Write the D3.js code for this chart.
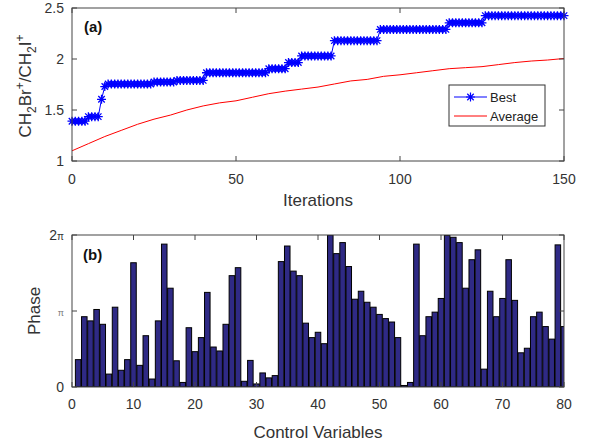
<!DOCTYPE html>
<html>
<head>
<meta charset="utf-8">
<script src="https://cdn.jsdelivr.net/npm/d3@7"></script>
<style>
  body { margin: 0; background: #fff; }
  svg { font-family: "Liberation Sans", Arial, sans-serif; }
  .tick-label { fill: #333; font-size: 14px; }
  .axis-title { fill: #333; font-size: 17px; }
</style>
</head>
<body>
<svg id="chart" width="599" height="444"></svg>
<script>
// ---- data ----
const bestIter = d3.range(0, 151);
const bestValues = [
  1.39, 1.39, 1.39, 1.39, 1.39,
  1.435, 1.435, 1.435, 1.435,
  1.605,
  1.73,
  1.755, 1.755, 1.755, 1.755, 1.755, 1.755, 1.755, 1.755, 1.755, 1.755, 1.755, 1.755, 1.755, 1.755,
  1.775, 1.775, 1.775, 1.775, 1.775, 1.775, 1.775,
  1.79, 1.79, 1.79, 1.79, 1.79, 1.79, 1.79, 1.79, 1.79,
  1.865, 1.865, 1.865, 1.865, 1.865, 1.865, 1.865, 1.865, 1.865, 1.865,
  1.865, 1.865, 1.865, 1.865, 1.865, 1.865, 1.865, 1.865, 1.865,
  1.905, 1.905, 1.905, 1.905, 1.905, 1.905,
  1.965, 1.965, 1.965, 1.965,
  2.03, 2.03, 2.03, 2.03, 2.03, 2.03, 2.03, 2.03, 2.03, 2.03,
  2.18, 2.18, 2.18, 2.18, 2.18, 2.18, 2.18, 2.18, 2.18, 2.18, 2.18, 2.18, 2.18, 2.18,
  2.29, 2.29, 2.29, 2.29, 2.29, 2.29, 2.29, 2.29, 2.29, 2.29, 2.29,
  2.29, 2.29, 2.29, 2.29, 2.29, 2.29, 2.29, 2.29, 2.29, 2.29,
  2.355, 2.355, 2.355, 2.355, 2.355, 2.355, 2.355, 2.355, 2.355, 2.355, 2.355,
  2.425, 2.425, 2.425, 2.425, 2.425, 2.425, 2.425, 2.425, 2.425, 2.425, 2.425, 2.425, 2.425,
  2.425, 2.425, 2.425, 2.425, 2.425, 2.425, 2.425, 2.425, 2.425, 2.425, 2.425, 2.425
];
const avgIter = [0, 5, 10, 15, 20, 25, 30, 35, 40, 45, 50, 55, 60, 65, 70, 75,
  80, 85, 90, 95, 100, 105, 110, 115, 120, 125, 130, 135, 140, 145, 150];
const avgValues = [1.10, 1.17, 1.24, 1.30, 1.36, 1.41, 1.45, 1.50, 1.54, 1.57, 1.59,
  1.625, 1.66, 1.685, 1.705, 1.725, 1.755, 1.785, 1.80, 1.83, 1.845, 1.865, 1.885,
  1.905, 1.915, 1.925, 1.945, 1.965, 1.98, 1.99, 2.005];

// phase of each control variable, in units of pi
const controlVars = d3.range(1, 81);
const phaseValues = [
  0.36, 0.925, 0.87, 1.02, 0.825, 0.17, 1.05, 0.22, 0.36, 1.635,
  0.285, 0.675, 0.105, 0.87, 1.88, 1.30, 0.345, 0.06, 0.78, 0.465,
  0.65, 1.245, 0.526, 0.474, 0.825, 1.465, 1.57, 0.075, 0.35, 0.04,
  0.185, 0.12, 0.15, 1.65, 1.855, 1.525, 1.465, 0.84, 0.65, 0.72,
  0.57, 2.0, 1.755, 1.90, 1.585, 1.155, 1.26, 1.115, 1.05, 0.955,
  0.90, 0.855, 0.65, 0.02, 0.06, 1.88, 0.675, 0.925, 0.985, 1.165,
  1.995, 1.97, 1.90, 1.30, 1.675, 1.805, 0.235, 1.26, 0.925, 1.165,
  1.675, 1.14, 0.45, 0.51, 0.925, 0.985, 0.795, 0.63, 1.87, 0.795
];

const topXTicks = [0, 50, 100, 150];
const topYTicks = [1, 1.5, 2, 2.5];
const botXTicks = [0, 10, 20, 30, 40, 50, 60, 70, 80];
const botYTicks = [0, 1, 2];

// ---- layout ----
const svg = d3.select("#chart");
const left = 72, right = 564;
const topPanel = { top: 8, bottom: 161 };
const botPanel = { top: 235, bottom: 387 };
const axisColor = "#444";
const tickLen = 5;

// ============ (a) convergence ============
const x1 = d3.scaleLinear().domain([0, 150]).range([left, right]);
const y1 = d3.scaleLinear().domain([1, 2.5]).range([topPanel.bottom, topPanel.top]);

const gTop = svg.append("g");

// average line
gTop.append("path")
  .datum(avgIter.map((d, i) => [d, avgValues[i]]))
  .attr("fill", "none")
  .attr("stroke", "#ff0000")
  .attr("stroke-width", 1)
  .attr("d", d3.line().x(d => x1(d[0])).y(d => y1(d[1])));

// best line with asterisk markers
gTop.append("path")
  .datum(bestIter.map((d, i) => [d, bestValues[i]]))
  .attr("fill", "none")
  .attr("stroke", "#0000ff")
  .attr("stroke-width", 1)
  .attr("d", d3.line().x(d => x1(d[0])).y(d => y1(d[1])));

function star(r) {
  const k = r * 0.72;
  return `M${-r},0H${r}M0,${-r}V${r}M${-k},${-k}L${k},${k}M${-k},${k}L${k},${-k}`;
}

gTop.selectAll(".best-marker")
  .data(bestIter.map((d, i) => [d, bestValues[i]]))
  .join("path")
  .attr("class", "best-marker")
  .attr("transform", d => `translate(${x1(d[0])},${y1(d[1])})`)
  .attr("d", star(4.5))
  .attr("fill", "none")
  .attr("stroke", "#0000ff")
  .attr("stroke-width", 1.3);

// box and ticks
gTop.append("rect")
  .attr("x", left).attr("y", topPanel.top)
  .attr("width", right - left).attr("height", topPanel.bottom - topPanel.top)
  .attr("fill", "none").attr("stroke", axisColor);

topXTicks.forEach(t => {
  gTop.append("line").attr("x1", x1(t)).attr("x2", x1(t))
    .attr("y1", topPanel.bottom).attr("y2", topPanel.bottom - tickLen).attr("stroke", axisColor);
  gTop.append("line").attr("x1", x1(t)).attr("x2", x1(t))
    .attr("y1", topPanel.top).attr("y2", topPanel.top + tickLen).attr("stroke", axisColor);
  gTop.append("text").attr("class", "tick-label")
    .attr("x", x1(t)).attr("y", 184).attr("text-anchor", "middle").text(t);
});
topYTicks.forEach(t => {
  gTop.append("line").attr("x1", left).attr("x2", left + tickLen)
    .attr("y1", y1(t)).attr("y2", y1(t)).attr("stroke", axisColor);
  gTop.append("line").attr("x1", right).attr("x2", right - tickLen)
    .attr("y1", y1(t)).attr("y2", y1(t)).attr("stroke", axisColor);
  gTop.append("text").attr("class", "tick-label")
    .attr("x", left - 8).attr("y", y1(t) + 5).attr("text-anchor", "end").text(t);
});

gTop.append("text").attr("class", "axis-title")
  .attr("x", (left + right) / 2).attr("y", 206).attr("text-anchor", "middle")
  .text("Iterations");

// rotated y label with sub/superscripts
const yLab = gTop.append("text").attr("class", "axis-title")
  .attr("transform", "translate(31,86) rotate(-90)")
  .attr("text-anchor", "middle");
yLab.append("tspan").text("CH");
yLab.append("tspan").attr("dy", 5).attr("font-size", 12).text("2");
yLab.append("tspan").attr("dy", -5).text("Br");
yLab.append("tspan").attr("dy", -7).attr("font-size", 12).text("+");
yLab.append("tspan").attr("dy", 7).text("/CH");
yLab.append("tspan").attr("dy", 5).attr("font-size", 12).text("2");
yLab.append("tspan").attr("dy", -5).text("I");
yLab.append("tspan").attr("dy", -7).attr("font-size", 12).text("+");

gTop.append("text").attr("x", 84).attr("y", 32)
  .attr("font-size", 15).attr("font-weight", "bold").attr("fill", "#111").text("(a)");

// legend
const leg = gTop.append("g");
leg.append("rect").attr("x", 449).attr("y", 85).attr("width", 96).attr("height", 41)
  .attr("fill", "#fff").attr("stroke", "#333");
leg.append("line").attr("x1", 454).attr("x2", 487).attr("y1", 97).attr("y2", 97)
  .attr("stroke", "#0000ff");
leg.append("path").attr("transform", "translate(470.5,97)").attr("d", star(4.5))
  .attr("fill", "none").attr("stroke", "#0000ff").attr("stroke-width", 1.2);
leg.append("text").attr("x", 490).attr("y", 102).attr("font-size", 13).attr("fill", "#222").text("Best");
leg.append("line").attr("x1", 454).attr("x2", 487).attr("y1", 116).attr("y2", 116)
  .attr("stroke", "#ff0000");
leg.append("text").attr("x", 490).attr("y", 121).attr("font-size", 13).attr("fill", "#222").text("Average");

// ============ (b) phases ============
const x2 = d3.scaleLinear().domain([0, 80]).range([left, right]);
const y2 = d3.scaleLinear().domain([0, 2]).range([botPanel.bottom, botPanel.top]);

const gBot = svg.append("g");
svg.append("clipPath").attr("id", "botClip")
  .append("rect").attr("x", left).attr("y", botPanel.top)
  .attr("width", right - left).attr("height", botPanel.bottom - botPanel.top);

gBot.append("g").attr("clip-path", "url(#botClip)")
  .selectAll("rect")
  .data(controlVars.map((d, i) => [d, phaseValues[i]]))
  .join("rect")
  .attr("x", d => x2(d[0] - 0.45))
  .attr("width", x2(0.9) - x2(0))
  .attr("y", d => y2(d[1]))
  .attr("height", d => y2(0) - y2(d[1]))
  .attr("fill", "#2f2a85")
  .attr("stroke", "#000")
  .attr("stroke-width", 1);

gBot.append("rect")
  .attr("x", left).attr("y", botPanel.top)
  .attr("width", right - left).attr("height", botPanel.bottom - botPanel.top)
  .attr("fill", "none").attr("stroke", axisColor);

botXTicks.forEach(t => {
  gBot.append("line").attr("x1", x2(t)).attr("x2", x2(t))
    .attr("y1", botPanel.bottom).attr("y2", botPanel.bottom - tickLen).attr("stroke", axisColor);
  gBot.append("line").attr("x1", x2(t)).attr("x2", x2(t))
    .attr("y1", botPanel.top).attr("y2", botPanel.top + tickLen).attr("stroke", axisColor);
  gBot.append("text").attr("class", "tick-label")
    .attr("x", x2(t)).attr("y", 409).attr("text-anchor", "middle").text(t);
});
botYTicks.forEach(t => {
  gBot.append("line").attr("x1", left).attr("x2", left + tickLen)
    .attr("y1", y2(t)).attr("y2", y2(t)).attr("stroke", axisColor);
  gBot.append("line").attr("x1", right).attr("x2", right - tickLen)
    .attr("y1", y2(t)).attr("y2", y2(t)).attr("stroke", axisColor);
  const lab = gBot.append("text").attr("class", "tick-label")
    .attr("x", left - 8).attr("y", y2(t) + 5).attr("text-anchor", "end");
  if (t === 0) lab.text("0");
  else if (t === 1) lab.append("tspan").attr("font-size", 9).attr("fill", "#777").text("\u03c0");
  else {
    lab.append("tspan").text("2");
    lab.append("tspan").attr("font-size", 10).text("\u03c0");
  }
});

gBot.append("text").attr("class", "axis-title")
  .attr("x", (left + right) / 2).attr("y", 438).attr("text-anchor", "middle")
  .text("Control Variables");
gBot.append("text").attr("class", "axis-title")
  .attr("transform", `translate(40,${(botPanel.top + botPanel.bottom) / 2}) rotate(-90)`)
  .attr("text-anchor", "middle").text("Phase");

gBot.append("text").attr("x", 83).attr("y", 260)
  .attr("font-size", 15).attr("font-weight", "bold").attr("fill", "#111").text("(b)");
</script>
</body>
</html>
